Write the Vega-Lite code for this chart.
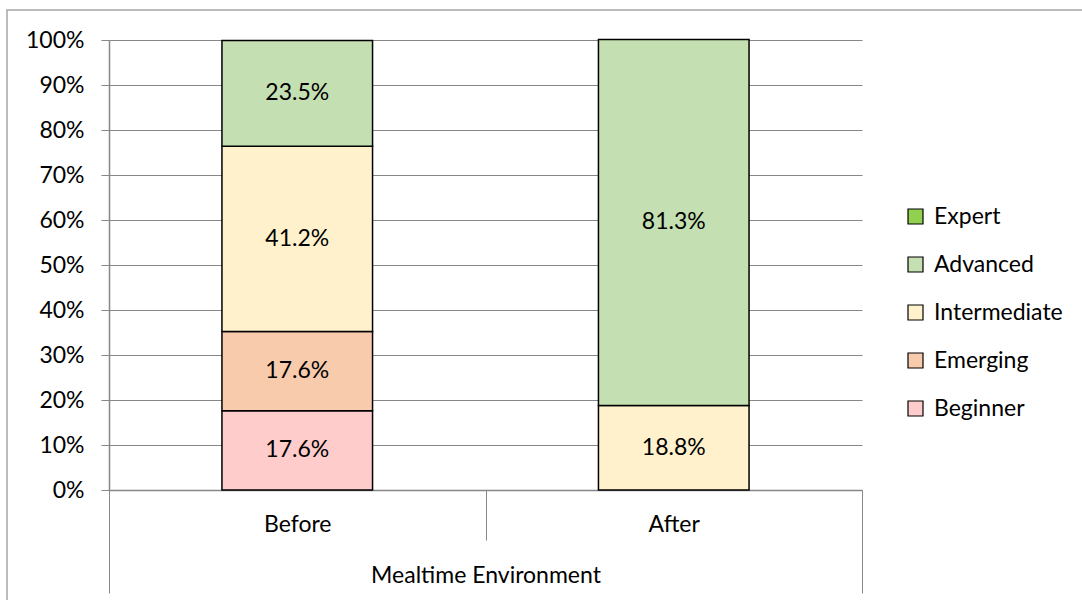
{
  "$schema": "https://vega.github.io/schema/vega-lite/v6.json",
  "autosize": "none",
  "width": 1080,
  "height": 595,
  "padding": {"left": 7, "top": 10, "right": 0, "bottom": 0},
  "background": "white",
  "config": {
    "font": "Lato",
    "view": {"stroke": "#a6a6a6", "strokeWidth": 1.5},
    "axis": {"labelFont": "Lato", "titleFont": "Lato", "labelColor": "#000000", "titleColor": "#000000"},
    "legend": {"labelFont": "Lato"}
  },
  "data": {
    "values": [
      {"phase": "Before", "level": "Beginner", "rank": 1, "share": 0.176},
      {"phase": "Before", "level": "Emerging", "rank": 2, "share": 0.176},
      {"phase": "Before", "level": "Intermediate", "rank": 3, "share": 0.412},
      {"phase": "Before", "level": "Advanced", "rank": 4, "share": 0.235},
      {"phase": "After", "level": "Intermediate", "rank": 3, "share": 0.188},
      {"phase": "After", "level": "Advanced", "rank": 4, "share": 0.813}
    ]
  },
  "resolve": {"axis": {"x": "independent"}},
  "layer": [
    {
      "mark": {"type": "bar", "stroke": "#000000", "strokeWidth": 1.5, "width": {"band": 0.4}},
      "encoding": {
        "x": {
          "field": "phase",
          "type": "nominal",
          "sort": ["Before", "After"],
          "scale": {"domain": ["Before", "After"], "range": [102, 855], "paddingInner": 0, "paddingOuter": 0},
          "axis": {
            "orient": "bottom",
            "offset": -115,
            "tickBand": "extent",
            "tickSize": 50,
            "tickColor": "#878787",
            "domainColor": "#878787",
            "domainWidth": 1.5,
            "tickWidth": 1,
            "grid": false,
            "labelAngle": 0,
            "labelFontSize": 23,
            "labelPadding": -27,
            "title": "Mealtime Environment",
            "titleFontSize": 23,
            "titleFontWeight": "normal",
            "titlePadding": 24
          }
        },
        "y": {
          "field": "share",
          "type": "quantitative",
          "stack": "zero",
          "scale": {"domain": [0, 1], "range": [480, 30], "nice": false},
          "axis": {
            "offset": -102,
            "values": [0, 0.1, 0.2, 0.3, 0.4, 0.5, 0.6, 0.7, 0.8, 0.9, 1],
            "format": ".0%",
            "title": null,
            "grid": true,
            "gridColor": "#878787",
            "gridWidth": 1,
            "domainColor": "#878787",
            "domainWidth": 1.5,
            "tickColor": "#878787",
            "tickSize": 8,
            "labelFontSize": 23,
            "labelPadding": 17
          }
        },
        "order": {"field": "rank", "type": "quantitative"},
        "color": {
          "field": "level",
          "type": "nominal",
          "scale": {
            "domain": ["Expert", "Advanced", "Intermediate", "Emerging", "Beginner"],
            "range": ["#92D050", "#C4DFB1", "#FFF1CC", "#F8CBAD", "#FFCCCC"]
          },
          "legend": {
            "title": null,
            "orient": "none",
            "legendX": 897,
            "legendY": 195,
            "symbolType": "square",
            "symbolSize": 225,
            "symbolStrokeColor": "#000000",
            "symbolStrokeWidth": 1.2,
            "labelFontSize": 23,
            "labelColor": "#000000",
            "labelOffset": 7,
            "rowPadding": 24
          }
        }
      }
    },
    {
      "mark": {"type": "text", "fontSize": 23, "color": "#000000", "baseline": "middle", "align": "center"},
      "encoding": {
        "x": {
          "field": "phase",
          "type": "nominal",
          "sort": ["Before", "After"],
          "axis": {
            "orient": "bottom",
            "offset": -115,
            "tickBand": "extent",
            "tickSize": 103,
            "tickColor": "#878787",
            "tickWidth": 1,
            "tickOpacity": {"condition": {"test": "datum.value === 'Before'", "value": 0}, "value": 1},
            "labels": false,
            "domain": false,
            "grid": false,
            "title": null
          }
        },
        "y": {"field": "share", "type": "quantitative", "stack": "zero", "bandPosition": 0.5},
        "order": {"field": "rank", "type": "quantitative"},
        "text": {"field": "share", "type": "quantitative", "format": ".1%"}
      }
    }
  ]
}
